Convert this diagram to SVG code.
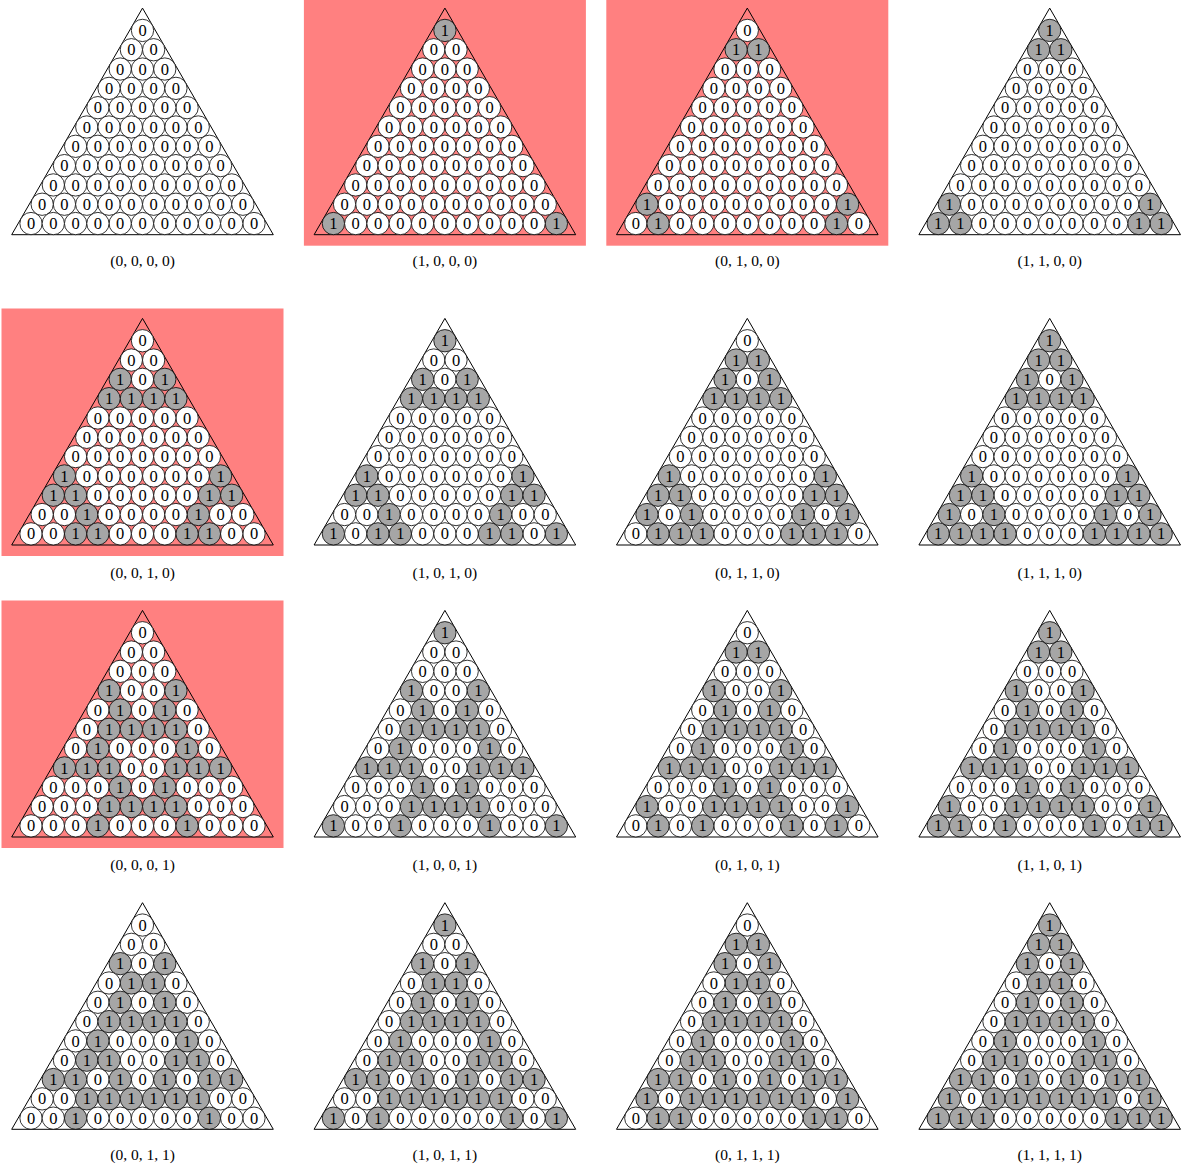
<svg xmlns="http://www.w3.org/2000/svg" xmlns:xlink="http://www.w3.org/1999/xlink" width="1184" height="1168" viewBox="0 0 1184 1168">
<style>
.c{stroke:#000;stroke-width:0.8}
.z{fill:#fff}
.o{fill:#a6a6a6}
text{font-family:"Liberation Serif","Times New Roman",serif;font-size:15.5px;fill:#000;text-anchor:middle}
.d{font-size:16.5px}
.tri{fill:none;stroke:#000;stroke-width:1}
.bg{fill:#ff8080}
</style>
<defs>
<g id="c0"><circle class="c z" r="11.15"/><text class="d" y="5.6">0</text></g>
<g id="c1"><circle class="c o" r="11.15"/><text class="d" y="5.6">1</text></g>
<polygon id="tr" class="tri" points="-130.8,0 130.8,0 0,-226.6"/>
<g id="Z">
<use href="#c0" x="0" y="-165.65"/>
<use href="#c0" x="-44.6" y="-127.02"/><use href="#c0" x="0" y="-127.02"/><use href="#c0" x="44.6" y="-127.02"/>
<use href="#c0" x="-55.75" y="-107.71"/><use href="#c0" x="55.75" y="-107.71"/>
<use href="#c0" x="-66.9" y="-88.4"/><use href="#c0" x="-22.3" y="-88.4"/><use href="#c0" x="0" y="-88.4"/><use href="#c0" x="22.3" y="-88.4"/><use href="#c0" x="66.9" y="-88.4"/>
<use href="#c0" x="-11.15" y="-69.08"/><use href="#c0" x="11.15" y="-69.08"/>
<use href="#c0" x="-44.6" y="-49.77"/><use href="#c0" x="0" y="-49.77"/><use href="#c0" x="44.6" y="-49.77"/>
<use href="#c0" x="-78.05" y="-30.46"/><use href="#c0" x="78.05" y="-30.46"/>
<use href="#c0" x="-22.3" y="-11.15"/><use href="#c0" x="0" y="-11.15"/><use href="#c0" x="22.3" y="-11.15"/>
</g>
<g id="A0"><use href="#c0" x="0" y="-204.27"/><use href="#c0" x="-111.5" y="-11.15"/><use href="#c0" x="111.5" y="-11.15"/></g>
<g id="A1"><use href="#c1" x="0" y="-204.27"/><use href="#c1" x="-111.5" y="-11.15"/><use href="#c1" x="111.5" y="-11.15"/></g>
<g id="B0"><use href="#c0" x="-11.15" y="-184.96"/><use href="#c0" x="11.15" y="-184.96"/><use href="#c0" x="-100.35" y="-30.46"/><use href="#c0" x="100.35" y="-30.46"/><use href="#c0" x="-89.2" y="-11.15"/><use href="#c0" x="89.2" y="-11.15"/></g>
<g id="B1"><use href="#c1" x="-11.15" y="-184.96"/><use href="#c1" x="11.15" y="-184.96"/><use href="#c1" x="-100.35" y="-30.46"/><use href="#c1" x="100.35" y="-30.46"/><use href="#c1" x="-89.2" y="-11.15"/><use href="#c1" x="89.2" y="-11.15"/></g>
<g id="C0"><use href="#c0" x="-22.3" y="-165.65"/><use href="#c0" x="22.3" y="-165.65"/><use href="#c0" x="-11.15" y="-146.33"/><use href="#c0" x="11.15" y="-146.33"/><use href="#c0" x="-89.2" y="-49.77"/><use href="#c0" x="-66.9" y="-49.77"/><use href="#c0" x="66.9" y="-49.77"/><use href="#c0" x="89.2" y="-49.77"/><use href="#c0" x="-55.75" y="-30.46"/><use href="#c0" x="55.75" y="-30.46"/><use href="#c0" x="-66.9" y="-11.15"/><use href="#c0" x="66.9" y="-11.15"/></g>
<g id="C1"><use href="#c1" x="-22.3" y="-165.65"/><use href="#c1" x="22.3" y="-165.65"/><use href="#c1" x="-11.15" y="-146.33"/><use href="#c1" x="11.15" y="-146.33"/><use href="#c1" x="-89.2" y="-49.77"/><use href="#c1" x="-66.9" y="-49.77"/><use href="#c1" x="66.9" y="-49.77"/><use href="#c1" x="89.2" y="-49.77"/><use href="#c1" x="-55.75" y="-30.46"/><use href="#c1" x="55.75" y="-30.46"/><use href="#c1" x="-66.9" y="-11.15"/><use href="#c1" x="66.9" y="-11.15"/></g>
<g id="E0"><use href="#c0" x="-33.45" y="-146.33"/><use href="#c0" x="33.45" y="-146.33"/><use href="#c0" x="-78.05" y="-69.08"/><use href="#c0" x="78.05" y="-69.08"/><use href="#c0" x="-44.6" y="-11.15"/><use href="#c0" x="44.6" y="-11.15"/></g>
<g id="E1"><use href="#c1" x="-33.45" y="-146.33"/><use href="#c1" x="33.45" y="-146.33"/><use href="#c1" x="-78.05" y="-69.08"/><use href="#c1" x="78.05" y="-69.08"/><use href="#c1" x="-44.6" y="-11.15"/><use href="#c1" x="44.6" y="-11.15"/></g>
<g id="D0"><use href="#c0" x="-22.3" y="-127.02"/><use href="#c0" x="22.3" y="-127.02"/><use href="#c0" x="-33.45" y="-107.71"/><use href="#c0" x="-11.15" y="-107.71"/><use href="#c0" x="11.15" y="-107.71"/><use href="#c0" x="33.45" y="-107.71"/><use href="#c0" x="-44.6" y="-88.4"/><use href="#c0" x="44.6" y="-88.4"/><use href="#c0" x="-55.75" y="-69.08"/><use href="#c0" x="-33.45" y="-69.08"/><use href="#c0" x="33.45" y="-69.08"/><use href="#c0" x="55.75" y="-69.08"/><use href="#c0" x="-22.3" y="-49.77"/><use href="#c0" x="22.3" y="-49.77"/><use href="#c0" x="-33.45" y="-30.46"/><use href="#c0" x="-11.15" y="-30.46"/><use href="#c0" x="11.15" y="-30.46"/><use href="#c0" x="33.45" y="-30.46"/></g>
<g id="D1"><use href="#c1" x="-22.3" y="-127.02"/><use href="#c1" x="22.3" y="-127.02"/><use href="#c1" x="-33.45" y="-107.71"/><use href="#c1" x="-11.15" y="-107.71"/><use href="#c1" x="11.15" y="-107.71"/><use href="#c1" x="33.45" y="-107.71"/><use href="#c1" x="-44.6" y="-88.4"/><use href="#c1" x="44.6" y="-88.4"/><use href="#c1" x="-55.75" y="-69.08"/><use href="#c1" x="-33.45" y="-69.08"/><use href="#c1" x="33.45" y="-69.08"/><use href="#c1" x="55.75" y="-69.08"/><use href="#c1" x="-22.3" y="-49.77"/><use href="#c1" x="22.3" y="-49.77"/><use href="#c1" x="-33.45" y="-30.46"/><use href="#c1" x="-11.15" y="-30.46"/><use href="#c1" x="11.15" y="-30.46"/><use href="#c1" x="33.45" y="-30.46"/></g>
</defs>

<!-- row 1 -->
<g id="t0000" transform="translate(142.5,234.7)"><use href="#tr"/><use href="#Z"/><use href="#A0"/><use href="#B0"/><use href="#C0"/><use href="#E0"/><use href="#D0"/><text y="31.8">(0, 0, 0, 0)</text></g>
<g id="t1000" transform="translate(444.9,234.7)"><rect class="bg" x="-141" y="-236.5" width="282" height="247.5"/><use href="#tr"/><use href="#Z"/><use href="#A1"/><use href="#B0"/><use href="#C0"/><use href="#E0"/><use href="#D0"/><text y="31.8">(1, 0, 0, 0)</text></g>
<g id="t0100" transform="translate(747.3,234.7)"><rect class="bg" x="-141" y="-236.5" width="282" height="247.5"/><use href="#tr"/><use href="#Z"/><use href="#A0"/><use href="#B1"/><use href="#C0"/><use href="#E0"/><use href="#D0"/><text y="31.8">(0, 1, 0, 0)</text></g>
<g id="t1100" transform="translate(1049.7,234.7)"><use href="#tr"/><use href="#Z"/><use href="#A1"/><use href="#B1"/><use href="#C0"/><use href="#E0"/><use href="#D0"/><text y="31.8">(1, 1, 0, 0)</text></g>

<!-- row 2 -->
<g id="t0010" transform="translate(142.5,545)"><rect class="bg" x="-141" y="-236.5" width="282" height="247.5"/><use href="#tr"/><use href="#Z"/><use href="#A0"/><use href="#B0"/><use href="#C1"/><use href="#E1"/><use href="#D0"/><text y="33">(0, 0, 1, 0)</text></g>
<g id="t1010" transform="translate(444.9,545)"><use href="#tr"/><use href="#Z"/><use href="#A1"/><use href="#B0"/><use href="#C1"/><use href="#E1"/><use href="#D0"/><text y="33">(1, 0, 1, 0)</text></g>
<g id="t0110" transform="translate(747.3,545)"><use href="#tr"/><use href="#Z"/><use href="#A0"/><use href="#B1"/><use href="#C1"/><use href="#E1"/><use href="#D0"/><text y="33">(0, 1, 1, 0)</text></g>
<g id="t1110" transform="translate(1049.7,545)"><use href="#tr"/><use href="#Z"/><use href="#A1"/><use href="#B1"/><use href="#C1"/><use href="#E1"/><use href="#D0"/><text y="33">(1, 1, 1, 0)</text></g>

<!-- row 3 -->
<g id="t0001" transform="translate(142.5,837)"><rect class="bg" x="-141" y="-236.5" width="282" height="247.5"/><use href="#tr"/><use href="#Z"/><use href="#A0"/><use href="#B0"/><use href="#C0"/><use href="#E1"/><use href="#D1"/><text y="33">(0, 0, 0, 1)</text></g>
<g id="t1001" transform="translate(444.9,837)"><use href="#tr"/><use href="#Z"/><use href="#A1"/><use href="#B0"/><use href="#C0"/><use href="#E1"/><use href="#D1"/><text y="33">(1, 0, 0, 1)</text></g>
<g id="t0101" transform="translate(747.3,837)"><use href="#tr"/><use href="#Z"/><use href="#A0"/><use href="#B1"/><use href="#C0"/><use href="#E1"/><use href="#D1"/><text y="33">(0, 1, 0, 1)</text></g>
<g id="t1101" transform="translate(1049.7,837)"><use href="#tr"/><use href="#Z"/><use href="#A1"/><use href="#B1"/><use href="#C0"/><use href="#E1"/><use href="#D1"/><text y="33">(1, 1, 0, 1)</text></g>

<!-- row 4 -->
<g id="t0011" transform="translate(142.5,1129.3)"><use href="#tr"/><use href="#Z"/><use href="#A0"/><use href="#B0"/><use href="#C1"/><use href="#E0"/><use href="#D1"/><text y="30.7">(0, 0, 1, 1)</text></g>
<g id="t1011" transform="translate(444.9,1129.3)"><use href="#tr"/><use href="#Z"/><use href="#A1"/><use href="#B0"/><use href="#C1"/><use href="#E0"/><use href="#D1"/><text y="30.7">(1, 0, 1, 1)</text></g>
<g id="t0111" transform="translate(747.3,1129.3)"><use href="#tr"/><use href="#Z"/><use href="#A0"/><use href="#B1"/><use href="#C1"/><use href="#E0"/><use href="#D1"/><text y="30.7">(0, 1, 1, 1)</text></g>
<g id="t1111" transform="translate(1049.7,1129.3)"><use href="#tr"/><use href="#Z"/><use href="#A1"/><use href="#B1"/><use href="#C1"/><use href="#E0"/><use href="#D1"/><text y="30.7">(1, 1, 1, 1)</text></g>
</svg>
